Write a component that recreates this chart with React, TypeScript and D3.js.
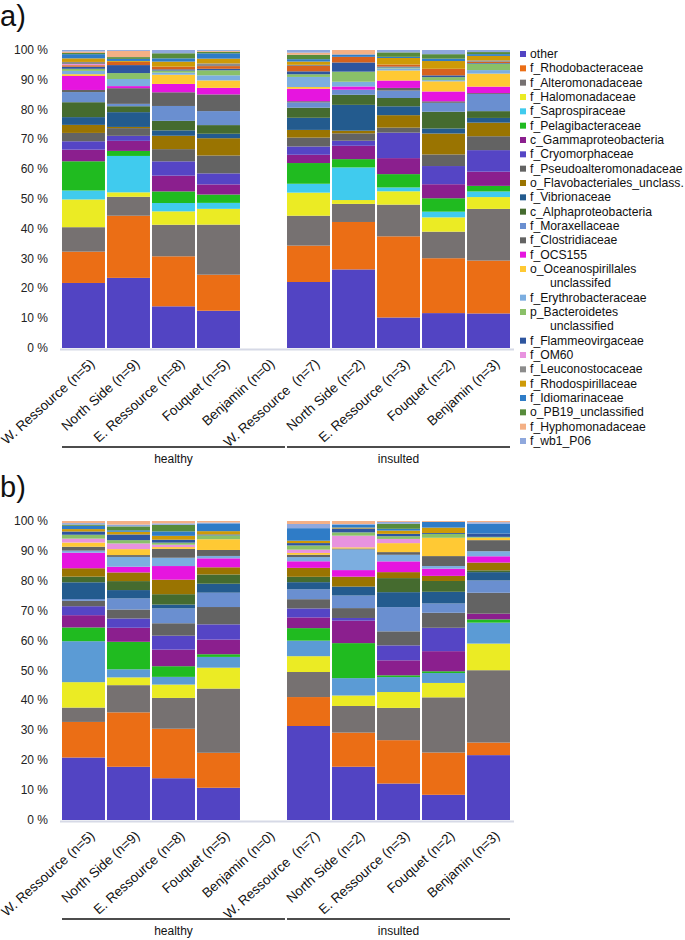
import React from "react";
import * as d3 from "d3";

// ---------- categories & groups ----------
const categories = [
  "W. Ressource (n=5)",
  "North Side (n=9)",
  "E. Ressource (n=8)",
  "Fouquet (n=5)",
  "Benjamin (n=0)",
  "W. Ressource  (n=7)",
  "North Side (n=2)",
  "E. Ressource (n=3)",
  "Fouquet (n=2)",
  "Benjamin (n=3)",
];
const groupLabels = ["healthy", "insulted"];
const groupFirst = [0, 5];
const groupLast = [4, 9];
const yTicks = [0, 0.1, 0.2, 0.3, 0.4, 0.5, 0.6, 0.7, 0.8, 0.9, 1];

// ---------- legend ----------
const legendLabels: string[][] = [
  ["other"],
  ["f_Rhodobacteraceae"],
  ["f_Alteromonadaceae"],
  ["f_Halomonadaceae"],
  ["f_Saprospiraceae"],
  ["f_Pelagibacteraceae"],
  ["c_Gammaproteobacteria"],
  ["f_Cryomorphaceae"],
  ["f_Pseudoalteromonadaceae"],
  ["o_Flavobacteriales_unclass."],
  ["f_Vibrionaceae"],
  ["c_Alphaproteobacteria"],
  ["f_Moraxellaceae"],
  ["f_Clostridiaceae"],
  ["f_OCS155"],
  ["o_Oceanospirillales", "unclassifed"],
  ["f_Erythrobacteraceae"],
  ["p_Bacteroidetes", "unclassified"],
  ["f_Flammeovirgaceae"],
  ["f_OM60"],
  ["f_Leuconostocaceae"],
  ["f_Rhodospirillaceae"],
  ["f_Idiomarinaceae"],
  ["o_PB19_unclassified"],
  ["f_Hyphomonadaceae"],
  ["f_wb1_P06"],
];
const legendKeys = [
  "other", "rhodo", "altero", "halo", "saprosp", "pelagi", "gamma", "cryo", "pseudo",
  "flavo", "vibrio", "alpha", "morax", "clostrid", "ocs155", "oceanosp", "erythro",
  "bacteroid", "flammeo", "om60", "leucono", "rhodospir", "idiomar", "pb19", "hypho", "wb1",
];

const taxonColors: Record<string, string> = {
  other: "#5244c3",
  rhodo: "#eb6e15",
  altero: "#767171",
  halo: "#ebeb24",
  saprosp: "#40cbee",
  pelagi: "#20bb20",
  gamma: "#8b1f8e",
  cryo: "#5545c5",
  pseudo: "#636363",
  flavo: "#9a7401",
  vibrio: "#235b8e",
  alpha: "#456b2f",
  morax: "#6a8fd0",
  clostrid: "#636363",
  ocs155: "#e615df",
  oceanosp: "#ffc934",
  erythro: "#7caee0",
  bacteroid: "#8ac068",
  flammeo: "#2e559f",
  minorOrange: "#d6621e",
  om60: "#e893df",
  leucono: "#8c8c8c",
  rhodospir: "#ce9a07",
  idiomar: "#2f7cc7",
  pb19: "#578b3b",
  hypho: "#f4b085",
  wb1: "#8fa8dd",
  lightBlueB: "#5b9bd5",
};

// ---------- panel a (stack order, bottom to top) ----------
const keysA = [
  "other", "rhodo", "altero", "halo", "saprosp", "pelagi", "gamma", "cryo", "pseudo",
  "flavo", "vibrio", "alpha", "morax", "clostrid", "ocs155", "oceanosp", "erythro",
  "bacteroid", "flammeo", "minorOrange", "om60", "leucono", "rhodospir", "idiomar",
  "pb19", "hypho", "wb1",
];
const aWRessourceH = [21.8, 10.5, 8.2, 9.3, 3.0, 9.8, 3.9, 2.8, 2.8, 2.7, 2.6, 5.0, 3.4, 0.7, 4.7, 0.6, 1.1, 0.7, 0.7, 0.5, 0.4, 0.7, 1.2, 1.4, 0.4, 0.5, 0.5];
const aNorthSideH = [23.7, 21.0, 6.4, 1.5, 12.3, 1.7, 3.4, 1.7, 2.6, 0.4, 5.0, 2.0, 0.8, 5.3, 0.7, 0, 2.4, 2.0, 2.7, 1.1, 0, 0, 0.3, 0.7, 0.6, 2.1, 0.3];
const aERessourceH = [14.0, 16.8, 10.6, 4.5, 2.8, 3.9, 5.3, 4.8, 4.1, 4.5, 1.8, 3.2, 5.0, 4.6, 2.8, 3.1, 0.7, 0.7, 0.4, 0.9, 0, 0, 1.7, 1.1, 1.7, 0, 1.1];
const aFouquetH = [12.5, 12.1, 16.8, 5.3, 2.0, 2.8, 3.4, 3.7, 6.0, 5.8, 1.5, 2.9, 4.7, 5.6, 2.2, 2.5, 1.7, 1.7, 0.5, 0.9, 0, 0.9, 1.6, 1.8, 0.5, 0.3, 0.3];
const aBenjaminH = [0, 0, 0, 0, 0, 0, 0, 0, 0, 0, 0, 0, 0, 0, 0, 0, 0, 0, 0, 0, 0, 0, 0, 0, 0, 0, 0];
const aWRessourceI = [22.3, 12.3, 10.1, 7.8, 3.0, 7.0, 2.8, 2.8, 3.0, 2.6, 4.1, 3.4, 1.8, 0.4, 4.2, 0.6, 3.4, 0.9, 1.0, 1.8, 0, 0.4, 1.1, 0.8, 1.5, 0.7, 0.9];
const aNorthSideI = [26.5, 16.0, 6.1, 1.3, 11.0, 2.8, 4.5, 1.7, 2.5, 0.9, 8.7, 3.4, 1.7, 0, 1.1, 0, 1.6, 3.4, 3.1, 1.9, 0, 0, 0, 0.8, 0, 1.5, 0];
const aERessourceI = [10.3, 27.4, 10.7, 4.5, 1.3, 4.5, 5.4, 8.6, 1.7, 4.2, 3.0, 2.8, 2.5, 0.9, 2.5, 3.4, 0.7, 0.3, 0.3, 0.7, 0, 0, 2.2, 0.4, 1.5, 0, 0.8];
const aFouquetI = [11.7, 18.4, 8.9, 4.8, 1.9, 4.5, 4.7, 6.1, 3.9, 7.0, 1.7, 5.6, 3.0, 0.5, 3.3, 3.4, 0.4, 1.0, 0.6, 2.2, 0, 0, 2.6, 0.8, 1.5, 0, 1.4];
const aBenjaminI = [11.7, 17.9, 17.5, 4.0, 1.9, 1.9, 4.8, 7.3, 4.7, 4.6, 1.6, 2.3, 5.8, 0.3, 2.2, 4.4, 1.2, 2.2, 0.2, 0.4, 0, 0.5, 1.5, 0.6, 0.7, 0, 0.7];
const panelARows = [aWRessourceH, aNorthSideH, aERessourceH, aFouquetH, aBenjaminH, aWRessourceI, aNorthSideI, aERessourceI, aFouquetI, aBenjaminI];

// ---------- panel b (stack order, bottom to top) ----------
const keysB = [
  "other", "rhodo", "altero", "halo", "lightBlueB", "pelagi", "gamma", "cryo", "pseudo",
  "morax", "vibrio", "alpha", "flavo", "ocs155", "erythro", "clostrid", "oceanosp", "om60",
  "bacteroid", "flammeo", "rhodospir", "idiomar", "pb19", "wb1", "hypho",
];
const bWRessourceH = [20.9, 11.9, 4.8, 8.5, 13.7, 4.6, 4.1, 3.0, 1.8, 0.6, 5.6, 1.9, 2.8, 5.2, 0.7, 1.3, 1.4, 1.3, 1.3, 1.1, 0.8, 1.1, 0.4, 0.5, 0.7];
const bNorthSideH = [17.8, 18.2, 9.1, 2.6, 2.7, 9.2, 4.7, 3.1, 3.0, 3.7, 2.8, 3.0, 2.9, 1.9, 3.3, 0.6, 2.0, 1.9, 1.1, 1.9, 0.9, 0.5, 1.3, 0.6, 1.2];
const bERessourceH = [14.1, 16.7, 10.4, 4.5, 2.6, 3.6, 5.6, 4.7, 4.2, 5.0, 1.3, 3.5, 4.9, 4.6, 2.8, 3.0, 0.6, 0.8, 0.7, 1.0, 1.3, 1.5, 2.2, 0.5, 0.8];
const bFouquetH = [10.8, 11.7, 21.5, 7.0, 3.6, 0.9, 4.9, 5.1, 5.8, 4.8, 3.0, 3.1, 2.4, 3.0, 0.8, 2.0, 3.6, 0, 1.3, 0.3, 1.1, 2.6, 0, 0.3, 0.5];
const bBenjaminH = [0, 0, 0, 0, 0, 0, 0, 0, 0, 0, 0, 0, 0, 0, 0, 0, 0, 0, 0, 0, 0, 0, 0, 0, 0];
const bWRessourceI = [31.5, 9.7, 8.4, 5.3, 5.2, 4.2, 3.6, 3.0, 3.1, 3.3, 2.4, 1.8, 3.0, 2.2, 1.4, 0.8, 0.6, 1.1, 1.4, 0.8, 0.8, 4.2, 0, 1.4, 1.0];
const bNorthSideI = [17.8, 11.4, 8.9, 3.5, 5.8, 11.7, 7.5, 0.9, 3.3, 4.2, 3.0, 0, 3.3, 2.2, 6.9, 0.3, 0.4, 3.9, 1.1, 1.3, 0.3, 1.0, 0, 0.2, 1.0];
const bERessourceI = [12.2, 14.5, 10.8, 5.3, 5.0, 0.6, 5.0, 5.0, 4.7, 8.1, 5.0, 4.7, 2.0, 3.6, 2.2, 0.9, 3.0, 1.4, 0.9, 0.8, 1.1, 0.6, 1.7, 0.6, 0.3];
const bFouquetI = [8.4, 14.1, 18.4, 4.8, 3.3, 0.6, 6.7, 7.8, 5.0, 3.1, 3.9, 3.6, 1.7, 2.4, 0.9, 3.3, 6.1, 0, 1.3, 0.3, 1.8, 1.9, 0, 0, 0.3];
const bBenjaminI = [21.7, 4.2, 24.2, 8.9, 7.0, 1.1, 1.9, 0, 7.0, 4.1, 2.8, 0.6, 2.6, 2.1, 1.7, 3.7, 0.8, 0, 0.3, 1.1, 0, 3.3, 0, 0.5, 0.4];
const panelBRows = [bWRessourceH, bNorthSideH, bERessourceH, bFouquetH, bBenjaminH, bWRessourceI, bNorthSideI, bERessourceI, bFouquetI, bBenjaminI];

const FONT = "'Liberation Sans', Arial, Helvetica, sans-serif";

const x = d3.scaleBand<string>().domain(categories).range([62, 510]).paddingInner(0.045).paddingOuter(0);

function buildStack(keys: string[], rows: number[][]) {
  const table = rows.map((r, i) => {
    const o: Record<string, any> = { cat: categories[i] };
    keys.forEach((k, j) => (o[k] = r[j] ?? 0));
    return o;
  });
  return d3.stack<any>().keys(keys).offset(d3.stackOffsetExpand)(table);
}

function Panel({ keys, rows, top, bottom, label }: { keys: string[]; rows: number[][]; top: number; bottom: number; label: string }) {
  const y = d3.scaleLinear().domain([0, 1]).range([bottom, top]);
  const series = buildStack(keys, rows);
  const bw = x.bandwidth();
  const labelY = bottom + 17;
  const lineY = bottom + 99;
  return (
    <g>
      <text x={0} y={top - 24} fontSize={29} fontFamily={FONT} fill="#111">{label}</text>
      {yTicks.map((t) => (
        <text key={t} x={48} y={y(t)} textAnchor="end" dominantBaseline="central" fontSize={12} fontFamily={FONT} fill="#222">
          {`${Math.round(t * 100)} %`}
        </text>
      ))}
      {series.map((s) => (
        <g key={s.key} fill={taxonColors[s.key]}>
          {s.map((d, i) => {
            const h = y(d[0]) - y(d[1]);
            if (!(h > 0)) return null;
            return <rect key={i} x={x(categories[i])} y={y(d[1])} width={bw} height={h} />;
          })}
        </g>
      ))}
      <line x1={60} x2={514} y1={bottom + 1.5} y2={bottom + 1.5} stroke="#d6d9e6" strokeWidth={2} />
      {categories.map((c) => {
        const cx = (x(c) as number) + bw / 2 + 12;
        return (
          <text key={c} transform={`translate(${cx},${labelY}) rotate(-42)`} textAnchor="end" fontSize={13.5} fontFamily={FONT} fill="#111" style={{ whiteSpace: "pre" }}>
            {c}
          </text>
        );
      })}
      {groupLabels.map((g, i) => {
        const x0 = x(categories[groupFirst[i]]) as number;
        const x1 = (x(categories[groupLast[i]]) as number) + bw;
        return (
          <g key={g}>
            <line x1={x0} x2={x1} y1={lineY} y2={lineY} stroke="#111" strokeWidth={1.5} />
            <text x={(x0 + x1) / 2} y={lineY + 16} textAnchor="middle" fontSize={12} fontFamily={FONT} fill="#111">{g}</text>
          </g>
        );
      })}
    </g>
  );
}

function Legend() {
  const ly = d3.scaleLinear().domain([0, 27]).range([54, 441]);
  let line = 0;
  return (
    <g fontFamily={FONT} fontSize={12.2} fill="#111">
      {legendLabels.map((lines, i) => {
        const start = line;
        line += lines.length;
        return (
          <g key={i}>
            <rect x={520} y={ly(start) - 3} width={6} height={6} fill={taxonColors[legendKeys[i]]} />
            {lines.map((t, j) => (
              <text key={j} x={j === 0 ? 530 : 550} y={ly(start + j)} dominantBaseline="central">{t}</text>
            ))}
          </g>
        );
      })}
    </g>
  );
}

export default function App() {
  return (
    <svg width={685} height={940} style={{ position: "absolute", left: 0, top: 0, background: "#fff" }}>
      <rect width={685} height={940} fill="#fff" />
      <Panel keys={keysA} rows={panelARows} top={50} bottom={348} label="a)" />
      <Panel keys={keysB} rows={panelBRows} top={521} bottom={820} label="b)" />
      <Legend />
    </svg>
  );
}
